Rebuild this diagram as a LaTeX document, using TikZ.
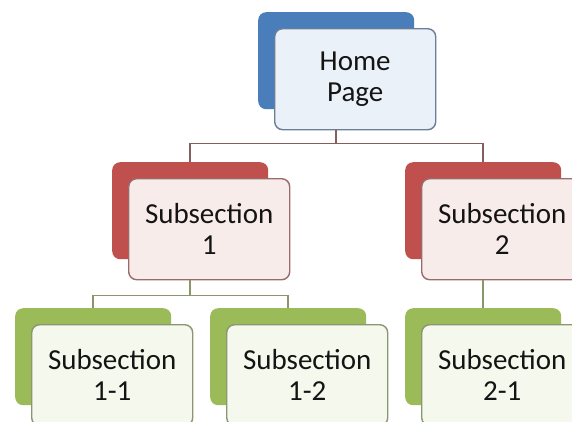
\documentclass[tikz,border=0pt]{standalone}
\usepackage{fontspec}
\setmainfont{Carlito}
\usetikzlibrary{calc}
\definecolor{colBlue}{HTML}{4A7EBB}
\definecolor{colRed}{HTML}{C0504D}
\definecolor{colGreen}{HTML}{9BBB59}
\definecolor{colLinkRed}{HTML}{865E5E}
\definecolor{colLinkGreen}{HTML}{8A976A}
\def\cardfont{\fontsize{29pt}{31pt}\selectfont}
\tikzset{
  back/.style={anchor=north west, inner sep=0pt, minimum width=156pt,
    minimum height=97pt, rounded corners=8pt},
  front/.style={anchor=north west, inner sep=0pt, minimum width=161pt,
    minimum height=101pt, rounded corners=8pt, line width=1.4pt,
    align=center, font=\cardfont, text=black!92},
  link/.style={line width=1.8pt}
}
% #1 name, #2 x, #3 y, #4 colour, #5 text
\newcommand{\card}[5]{%
  \node[back, fill=#4] (#1-bk) at (#2,#3) {};%
  \node[front, fill=#4!11, draw=#4!40!gray] (#1-fr)
    at ([shift={(16,16)}]#1-bk.north west) {#5};}

\begin{document}
\begin{tikzpicture}[x=1pt, y=-1pt]
\clip (0,0) rectangle (572,421);
\fill[white] (0,0) rectangle (572,421);

% ===================== level 0 =====================
\card{home}{258}{12}{colBlue}{Home\\Page}

% ===================== level 1 =====================
\card{secA}{112}{162}{colRed}{Subsection\\1}
\card{secB}{405}{162}{colRed}{Subsection\\2}

% ===================== level 2 =====================
\card{secAA}{15}{308}{colGreen}{Subsection\\1-1}
\card{secAB}{210}{308}{colGreen}{Subsection\\1-2}
\card{secBA}{405}{308}{colGreen}{Subsection\\2-1}

% ===================== links =====================
\coordinate (homeJ) at ($(home-bk.center |- home-fr.south)+(0,13)$);
\draw[link, draw=colLinkRed] (home-bk.center |- home-fr.south) -- (homeJ);
\draw[link, draw=colLinkRed] (homeJ) -| (secA-bk.north);
\draw[link, draw=colLinkRed] (homeJ) -| (secB-bk.north);

\coordinate (secAJ) at ($(secA-bk.center |- secA-fr.south)+(0,15)$);
\draw[link, draw=colLinkGreen] (secA-bk.center |- secA-fr.south) -- (secAJ);
\draw[link, draw=colLinkGreen] (secAJ) -| (secAA-bk.north);
\draw[link, draw=colLinkGreen] (secAJ) -| (secAB-bk.north);

\draw[link, draw=colLinkGreen] (secB-bk.center |- secB-fr.south) -- (secBA-bk.north);
\end{tikzpicture}
\end{document}
